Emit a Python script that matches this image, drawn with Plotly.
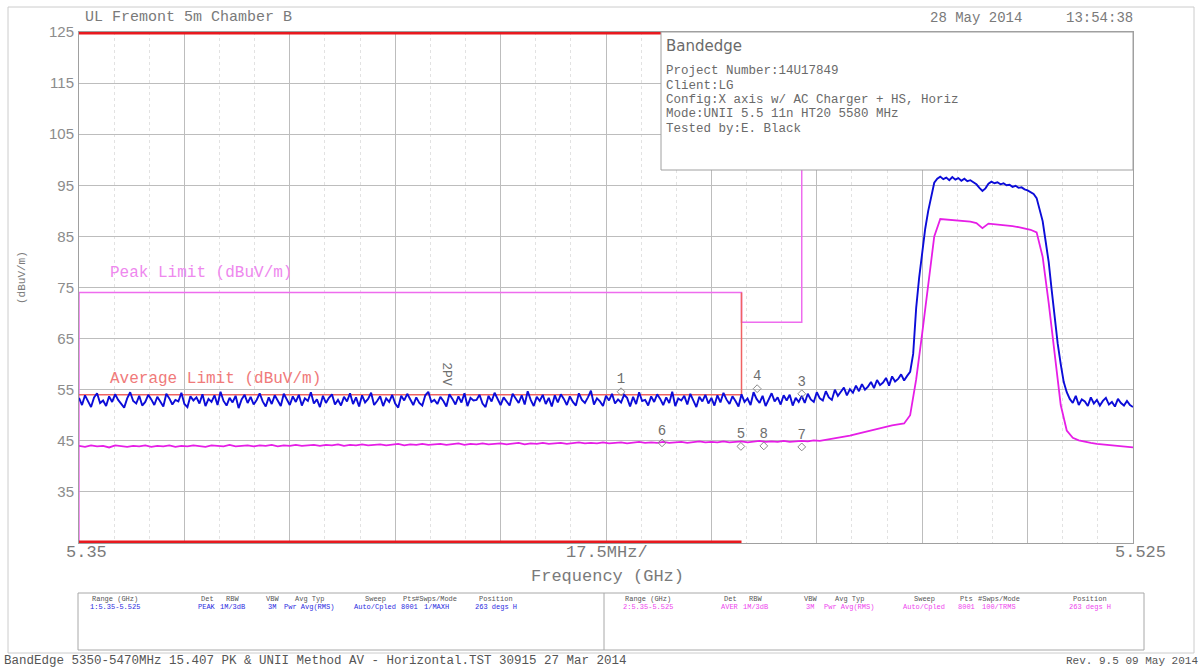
import plotly.graph_objects as go
import numpy as np

# ---- peak trace (dBuV/m), sweep 5.350 - 5.525 GHz, 0.5 MHz per point ----
peak_dbuv = [
    53.4, 52.0, 53.9, 52.7, 51.6, 53.5, 54.3, 52.4, 52.9, 51.8, 53.7, 52.6, 54.1, 53.0, 52.2, 51.5, 53.3, 54.5, 52.8, 52.3,
    53.8, 51.9, 52.6, 54.0, 53.1, 52.0, 53.6, 52.5, 51.7, 54.2, 53.3, 52.1, 53.0, 52.7, 54.4, 52.2, 51.6, 53.7, 52.9, 53.5,
    52.3, 54.1, 51.8, 53.2, 52.6, 53.9, 52.0, 54.6, 52.8, 51.9, 53.4, 52.5, 53.8, 51.4, 53.1, 54.0, 52.4, 53.6, 52.1, 53.0,
    54.3, 52.7, 51.7, 53.5, 52.2, 53.9, 52.9, 51.8, 54.2, 53.2, 52.0, 53.7, 52.6, 54.0, 51.9, 53.3, 52.8, 54.5, 52.3, 53.1,
    51.6, 53.8, 52.4, 53.4, 54.1, 52.1, 53.0, 51.9, 53.6, 52.7, 54.3, 52.2, 53.5, 51.7, 53.9, 52.5, 53.2, 54.4, 52.0, 52.8,
    53.7, 51.8, 53.3, 52.6, 54.0, 52.3, 51.5, 53.8, 52.9, 54.2, 53.1, 52.0, 53.5, 52.4, 51.9, 53.9, 54.6, 52.6, 53.0, 52.2,
    53.6, 52.8, 51.7, 54.1, 53.2, 52.1, 53.7, 52.5, 54.3, 51.8, 53.4, 52.9, 53.0, 54.0, 52.3, 51.6, 53.8, 52.7, 54.4, 53.1,
    52.0, 53.5, 52.6, 51.9, 54.2, 53.3, 52.4, 53.9, 52.1, 54.7, 53.0, 51.8, 53.6, 52.8, 54.0, 52.2, 53.4, 51.7, 53.9, 52.5,
    54.1, 53.2, 52.0, 53.7, 52.6, 51.9, 54.3, 53.0, 52.4, 53.5, 54.8, 52.1, 53.3, 52.7, 51.8, 53.8, 52.9, 54.2, 52.3, 53.1,
    52.5, 54.0, 53.4, 51.7, 53.6, 52.2, 54.5, 52.8, 53.0, 51.9, 53.7, 52.6, 54.1, 53.2, 52.0, 53.5, 52.4, 54.6, 51.8, 53.3,
    52.9, 53.8, 52.1, 54.2, 53.0, 51.6, 53.6, 52.7, 54.0, 52.3, 53.4, 51.9, 53.9, 52.5, 54.4, 53.1, 52.2, 53.7, 52.8, 51.7,
    54.1, 52.6, 53.3, 52.0, 54.5, 53.2, 52.4, 53.8, 51.8, 53.0, 54.3, 52.7, 53.5, 52.1, 53.9, 52.9, 54.0, 51.9, 53.4, 52.6,
    53.8, 52.4, 54.2, 53.1, 52.6, 54.5, 53.3, 52.9, 54.7, 53.5, 53.0, 55.0,
    53.8, 54.6, 55.4, 53.9, 55.1, 54.4, 55.8, 54.7, 56.1, 55.0, 55.6, 56.5,
    55.3, 56.9, 55.9, 56.4, 57.3, 55.8, 57.6, 56.6, 57.1, 58.0, 56.8, 57.7,
    58.5, 62.0, 71.0, 77.0, 82.0, 86.5, 90.0, 93.0, 95.5, 96.3,
    96.7, 96.2, 96.5, 96.0, 96.6, 96.1, 96.4, 95.9, 96.3, 95.8,
    96.0, 95.6, 95.2, 94.5, 93.9, 94.4, 95.3, 95.7, 95.4, 95.6,
    95.2, 95.4, 95.0, 95.1, 94.7, 94.9, 94.5, 94.6, 94.2, 94.0, 93.7,
    93.3, 92.5, 90.5, 88.0, 84.0, 80.0, 74.5, 69.0, 64.0, 60.0, 56.5, 54.5,
    53.2, 52.4, 53.8, 52.0, 53.1, 52.7, 51.8, 53.5, 52.3, 53.0, 51.9, 52.8, 53.4, 52.1, 52.6, 51.7, 53.2, 52.4, 51.9, 52.8,
    52.0, 51.6,
]
# ---- average trace (dBuV/m), 1 MHz per point ----
avg_dbuv = [
    44.0, 43.8, 44.1, 43.9, 44.0, 43.7, 44.1, 43.9, 43.8, 44.0,
    43.9, 44.1, 43.8, 44.0, 43.9, 44.1, 43.8, 44.0, 43.9, 44.1,
    44.0, 43.8, 44.1, 44.0, 43.9, 44.2, 43.9, 44.0, 44.1, 43.9,
    44.1, 44.0, 44.2, 43.9, 44.1, 44.0, 44.2, 44.0, 44.1, 44.2,
    44.0, 44.2, 44.1, 44.3, 44.0, 44.2, 44.1, 44.3, 44.1, 44.2,
    44.3, 44.1, 44.2, 44.4, 44.1, 44.3, 44.2, 44.4, 44.2, 44.3,
    44.4, 44.2, 44.3, 44.5, 44.2, 44.4, 44.3, 44.5, 44.3, 44.4,
    44.5, 44.3, 44.4, 44.6, 44.3, 44.5, 44.4, 44.6, 44.4, 44.5,
    44.6, 44.4, 44.5, 44.7, 44.5, 44.6, 44.5, 44.7, 44.5, 44.6,
    44.7, 44.5, 44.6, 44.8, 44.6, 44.7, 44.6, 44.8, 44.6, 44.7,
    44.8, 44.6, 44.7, 44.9, 44.7, 44.8, 44.7, 44.9, 44.7, 44.8,
    44.9, 44.7, 44.8, 45.0, 44.8, 44.9, 44.8, 45.0, 44.8, 44.9,
    45.0, 44.9, 45.1, 45.0, 45.2, 45.3, 45.5, 45.7, 46.0, 46.3,
    46.6, 46.9, 47.2, 47.5, 47.8, 48.0, 48.2, 48.4,
    50.0, 57.0, 66.0, 76.0, 85.0,
    88.4, 88.3, 88.3, 88.1, 88.0, 87.9, 87.6, 86.6,
    87.5, 87.4, 87.2, 87.1, 87.0, 86.8, 86.6, 86.3,
    85.8, 81.0, 72.0, 62.0, 52.0, 47.0,
    45.6, 45.1, 44.8, 44.6, 44.4, 44.3, 44.1, 44.0, 43.9, 43.8, 43.7,
]
peak_f = np.linspace(5.35, 5.525, len(peak_dbuv))
avg_f = np.linspace(5.35, 5.525, len(avg_dbuv))

# limit lines
peak_lim_f = [5.35, 5.35, 5.46, 5.46, 5.47, 5.47]
peak_lim_db = [25, 74, 74, 68.2, 68.2, 125]
avg_lim_f = [5.35, 5.46, 5.46]
avg_lim_db = [54, 54, 74]
band_f = [5.35, 5.46]
band_top = [125, 125]
band_bot = [25, 25]

# markers
mk_text = ["1", "3", "4", "5", "6", "7", "8"]
mk_f = [5.4400, 5.4700, 5.4626, 5.4599, 5.4468, 5.4700, 5.4637]
mk_db = [54.6, 54.2, 55.2, 43.9, 44.6, 43.8, 44.0]
pv_f, pv_db = 5.411, 55.2

y_ticks = [35, 45, 55, 65, 75, 85, 95, 105, 115, 125]

info_lines = [
    "Project Number:14U17849",
    "Client:LG",
    "Config:X axis w/ AC Charger + HS, Horiz",
    "Mode:UNII 5.5 11n HT20 5580 MHz",
    "Tested by:E. Black",
]
tbl_head = ["Range (GHz)", "Det", "RBW", "VBW", "Avg Typ", "Sweep", "Pts", "#Swps/Mode", "Position"]
tbl_row1 = ["1:5.35-5.525", "PEAK", "1M/3dB", "3M", "Pwr Avg(RMS)", "Auto/Cpled", "8001", "1/MAXH", "263 degs H"]
tbl_row2 = ["2:5.35-5.525", "AVER", "1M/3dB", "3M", "Pwr Avg(RMS)", "Auto/Cpled", "8001", "100/TRMS", "263 degs H"]

MONO = "Liberation Mono"
GREY = "#7a7a7a"

L, R, T, B = 79, 1133, 32, 543


def px(x):
    return (x - L) / (R - L)


def py(y):
    return (B - y) / (B - T)


fig = go.Figure()
fig.add_trace(go.Scatter(x=peak_lim_f, y=peak_lim_db, mode="lines",
                         line=dict(color="#ee6cee", width=1.5)))
fig.add_trace(go.Scatter(x=avg_lim_f, y=avg_lim_db, mode="lines",
                         line=dict(color="#f06262", width=1.5)))
fig.add_trace(go.Scatter(x=band_f, y=band_top, mode="lines",
                         line=dict(color="#e8191f", width=5)))
fig.add_trace(go.Scatter(x=band_f, y=band_bot, mode="lines",
                         line=dict(color="#e8191f", width=5)))
fig.add_trace(go.Scatter(x=avg_f, y=avg_dbuv, mode="lines",
                         line=dict(color="#e61ee6", width=1.8)))
fig.add_trace(go.Scatter(x=peak_f, y=peak_dbuv, mode="lines",
                         line=dict(color="#0c0cd8", width=1.9)))
fig.add_trace(go.Scatter(x=mk_f, y=mk_db, mode="markers+text", text=mk_text,
                         textposition="top center",
                         textfont=dict(family=MONO, size=14, color="#6e6e6e"),
                         marker=dict(symbol="diamond-open", size=6, color="#8a8a8a")))

fig.add_annotation(x=pv_f, y=pv_db, xref="x", yref="y", text="2PV", textangle=90,
                   showarrow=False, yanchor="bottom",
                   font=dict(family=MONO, size=13, color="#6e6e6e"))

ann = []


def txt(x, y, s, size, color=GREY, xa="left", family=MONO, angle=0):
    ann.append(dict(x=px(x), y=py(y), xref="paper", yref="paper", text=s,
                    showarrow=False, xanchor=xa, yanchor="middle", textangle=angle,
                    font=dict(family=family, size=size, color=color)))


txt(83, 18, "UL Fremont 5m Chamber B", 15)
txt(928, 18, "28 May 2014", 14)
txt(1135, 18, "13:54:38", 14, xa="right")
txt(664, 46, "Bandedge", 15, color="#6a6a6a", family="DejaVu Sans")
for i, line in enumerate(info_lines):
    txt(664, 71 + 14.5 * i, line, 12.5, color="#6a6a6a")
txt(108, 273, "Peak Limit (dBuV/m)", 16, color="#ee88ee")
txt(108, 379, "Average Limit (dBuV/m)", 16, color="#f07a7a")
txt(22, 278, "(dBuV/m)", 11, angle=-90, xa="center")
txt(86, 553, "5.35", 17, xa="center")
txt(607, 553, "17.5MHz/", 17, xa="center")
txt(1140, 553, "5.525", 17, xa="center")
txt(607, 577, "Frequency (GHz)", 17, xa="center")

col_left = [115, 207, 232, 272, 309, 375, 409, 436, 496]
col_right = [648, 730, 755, 810, 849, 924, 966, 999, 1090]
for cx, h, v in zip(col_left, tbl_head, tbl_row1):
    txt(cx, 599, h, 7, color="#555555", xa="center")
    txt(cx, 607, v, 7, color="#2a2ae0", xa="center")
for cx, h, v in zip(col_right, tbl_head, tbl_row2):
    txt(cx, 599, h, 7, color="#555555", xa="center")
    txt(cx, 607, v, 7, color="#ee44ee", xa="center")

txt(2, 661, "BandEdge 5350-5470MHz 15.407 PK & UNII Method AV - Horizontal.TST 30915 27 Mar 2014", 12.5, color="#555555")
txt(1200, 661, "Rev. 9.5 09 May 2014", 11, color="#555555", xa="right")

shapes = [
    # info box
    dict(type="rect", xref="paper", yref="paper", x0=px(661), x1=px(1133), y0=py(170), y1=py(32),
         fillcolor="white", line=dict(color="#a0a0a0", width=1), layer="above"),
    # settings table
    dict(type="rect", xref="paper", yref="paper", x0=px(78), x1=px(1144), y0=py(650), y1=py(593),
         fillcolor="rgba(0,0,0,0)", line=dict(color="#a8a8a8", width=1)),
    dict(type="line", xref="paper", yref="paper", x0=px(604), x1=px(604), y0=py(650), y1=py(593),
         line=dict(color="#a8a8a8", width=1)),
    # outer frame
    dict(type="rect", xref="paper", yref="paper", x0=px(8), x1=px(1194), y0=py(653), y1=py(7),
         fillcolor="rgba(0,0,0,0)", line=dict(color="#cccccc", width=1)),
]

fig.update_layout(
    width=1202, height=669,
    margin=dict(l=L, r=1202 - R, t=T, b=669 - B),
    paper_bgcolor="white", plot_bgcolor="white",
    showlegend=False,
    annotations=list(fig.layout.annotations) + ann,
    shapes=shapes,
    xaxis=dict(range=[5.35, 5.525], tick0=5.35, dtick=0.0175, showticklabels=False,
               ticks="", showgrid=True, gridcolor="#bdbdbd", gridwidth=1, zeroline=False,
               showline=True, linecolor="#a0a0a0", linewidth=1, mirror=True,
               minor=dict(tick0=5.35, dtick=0.0175 / 3, showgrid=True, griddash="dot",
                          gridcolor="#e2e2e2", gridwidth=1)),
    yaxis=dict(range=[25, 125], tickvals=y_ticks, ticktext=[str(v) for v in y_ticks],
               ticks="", showgrid=True, gridcolor="#bdbdbd", gridwidth=1, zeroline=False,
               showline=True, linecolor="#a0a0a0", linewidth=1, mirror=True,
               tickfont=dict(family="Liberation Sans", size=15, color="#8c8c8c"),
               ticklabelstandoff=1),
)

fig.write_html("out.html", config={"displayModeBar": False},
               post_script="document.body.style.margin='0';")
